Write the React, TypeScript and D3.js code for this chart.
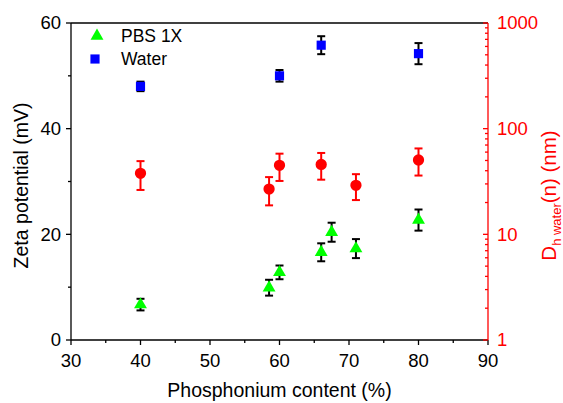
import React, { useEffect } from 'react';
import * as d3 from 'd3';

const pbsX = [40, 58.5, 60, 66, 67.5, 71, 80];
const pbsZeta = [6.7, 9.9, 12.8, 16.6, 20.4, 17.3, 22.7];
const pbsErr = [1.1, 1.5, 1.3, 1.7, 1.8, 1.8, 2.0];
const waterX = [40, 60, 66, 80];
const waterZeta = [48.0, 50.0, 55.8, 54.2];
const waterErr = [0.9, 1.1, 1.7, 2.0];
const dhX = [40, 58.5, 60, 66, 71, 80];
const dhVal = [37.8, 26.8, 45.0, 45.9, 29.1, 50.5];
const dhErr = [11.5, 8, 13, 13, 8, 14.5];
const xTicks = [30, 40, 50, 60, 70, 80, 90];
const xMinor = [35, 45, 55, 65, 75, 85];
const yTicks = [0, 20, 40, 60];
const yMinor = [10, 30, 50];
const rTicks = [1, 10, 100, 1000];
const legendLabels = ['PBS 1X', 'Water'];

const W = 563, H = 403;
const L = 71, R = 488, T = 23, B = 340;
const FONT = '"Liberation Sans", Arial, sans-serif';

export default function App() {
  useEffect(() => { document.body.style.margin = '0'; }, []);
  const x = d3.scaleLinear().domain([30, 90]).range([L, R]);
  const y = d3.scaleLinear().domain([0, 60]).range([B, T]);
  const yr = d3.scaleLog().domain([1, 1000]).range([B, T]);
  const rMinor: number[] = [];
  [1, 10, 100].forEach(d => { for (let k = 2; k <= 9; k++) rMinor.push(d * k); });

  const tri = d3.symbol().type(d3.symbolTriangle).size(72)()!;
  const sq = d3.symbol().type(d3.symbolSquare).size(84)()!;
  const circ = d3.symbol().type(d3.symbolCircle).size(100)()!;
  const cap = 4;

  return (
    <svg width={W} height={H} style={{ display: 'block' }} fontFamily={FONT}>
      <rect width={W} height={H} fill="#fff" />
      {/* frame */}
      <line x1={L} x2={R} y1={T} y2={T} stroke="#000" strokeWidth={1.3} />
      <line x1={L} x2={R} y1={B} y2={B} stroke="#000" strokeWidth={1.3} />
      <line x1={L} x2={L} y1={T} y2={B} stroke="#000" strokeWidth={1.3} />
      <line x1={R} x2={R} y1={T} y2={B} stroke="#f00" strokeWidth={1.3} />
      {/* bottom ticks */}
      {xTicks.map(t => (
        <g key={'xt' + t}>
          <line x1={x(t)} x2={x(t)} y1={B} y2={B + 5} stroke="#000" strokeWidth={1.3} />
          <text x={x(t)} y={B + 27} fontSize={18.5} textAnchor="middle">{t}</text>
        </g>
      ))}
      {xMinor.map(t => (
        <line key={'xm' + t} x1={x(t)} x2={x(t)} y1={B} y2={B + 3} stroke="#000" strokeWidth={1.3} />
      ))}
      <text x={(L + R) / 2} y={397} fontSize={19.5} textAnchor="middle">Phosphonium content (%)</text>
      {/* left ticks */}
      {yTicks.map(t => (
        <g key={'yt' + t}>
          <line x1={L - 5} x2={L} y1={y(t)} y2={y(t)} stroke="#000" strokeWidth={1.3} />
          <text x={L - 10} y={y(t)} dy="0.35em" fontSize={18.5} textAnchor="end">{t}</text>
        </g>
      ))}
      {yMinor.map(t => (
        <line key={'ym' + t} x1={L - 3} x2={L} y1={y(t)} y2={y(t)} stroke="#000" strokeWidth={1.3} />
      ))}
      <text transform={`translate(21,${(T + B) / 2 + 4}) rotate(-90)`} fontSize={19.5} textAnchor="middle" dy="0.35em">Zeta potential (mV)</text>
      {/* right ticks */}
      {rTicks.map(t => (
        <g key={'rt' + t}>
          <line x1={R - 5} x2={R} y1={yr(t)} y2={yr(t)} stroke="#f00" strokeWidth={1.3} />
          <text x={R + 9} y={yr(t)} dy="0.35em" fontSize={18.5} fill="#f00">{t}</text>
        </g>
      ))}
      {rMinor.map(t => (
        <line key={'rm' + t} x1={R - 3} x2={R} y1={yr(t)} y2={yr(t)} stroke="#f00" strokeWidth={1.3} />
      ))}
      <text transform={`translate(556,${(T + B) / 2 + 14}) rotate(-90)`} fontSize={20.5} textAnchor="middle" fill="#f00">
        D<tspan fontSize={13} dy={5}>h water</tspan><tspan dy={-5}>(n) (nm)</tspan>
      </text>
      {/* red error bars + circles */}
      {dhX.map((v, i) => {
        const cx = x(v), lo = yr(dhVal[i] - dhErr[i]), hi = yr(dhVal[i] + dhErr[i]);
        return (
          <g key={'dh' + i} stroke="#f00" strokeWidth={2}>
            <line x1={cx} x2={cx} y1={lo} y2={hi} />
            <line x1={cx - cap} x2={cx + cap} y1={lo} y2={lo} />
            <line x1={cx - cap} x2={cx + cap} y1={hi} y2={hi} />
            <path d={circ} transform={`translate(${cx},${yr(dhVal[i])})`} fill="#f00" stroke="none" />
          </g>
        );
      })}
      {/* PBS */}
      {pbsX.map((v, i) => {
        const cx = x(v), lo = y(pbsZeta[i] - pbsErr[i]), hi = y(pbsZeta[i] + pbsErr[i]);
        return (
          <g key={'p' + i}>
            <g stroke="#000" strokeWidth={2}>
              <line x1={cx} x2={cx} y1={lo} y2={hi} />
              <line x1={cx - cap} x2={cx + cap} y1={lo} y2={lo} />
              <line x1={cx - cap} x2={cx + cap} y1={hi} y2={hi} />
            </g>
            <path d={tri} transform={`translate(${cx},${y(pbsZeta[i])})`} fill="#00ff00" />
          </g>
        );
      })}
      {/* Water */}
      {waterX.map((v, i) => {
        const cx = x(v), lo = y(waterZeta[i] - waterErr[i]), hi = y(waterZeta[i] + waterErr[i]);
        return (
          <g key={'w' + i}>
            <g stroke="#000" strokeWidth={2}>
              <line x1={cx} x2={cx} y1={lo} y2={hi} />
              <line x1={cx - cap} x2={cx + cap} y1={lo} y2={lo} />
              <line x1={cx - cap} x2={cx + cap} y1={hi} y2={hi} />
            </g>
            <path d={sq} transform={`translate(${cx},${y(waterZeta[i])})`} fill="#0000ff" />
          </g>
        );
      })}
      {/* legend */}
      <path d={tri} transform="translate(97,36)" fill="#00ff00" />
      <text x={121} y={42} fontSize={17.5}>{legendLabels[0]}</text>
      <path d={sq} transform="translate(95,59)" fill="#0000ff" />
      <text x={121} y={65} fontSize={17.5}>{legendLabels[1]}</text>
    </svg>
  );
}
